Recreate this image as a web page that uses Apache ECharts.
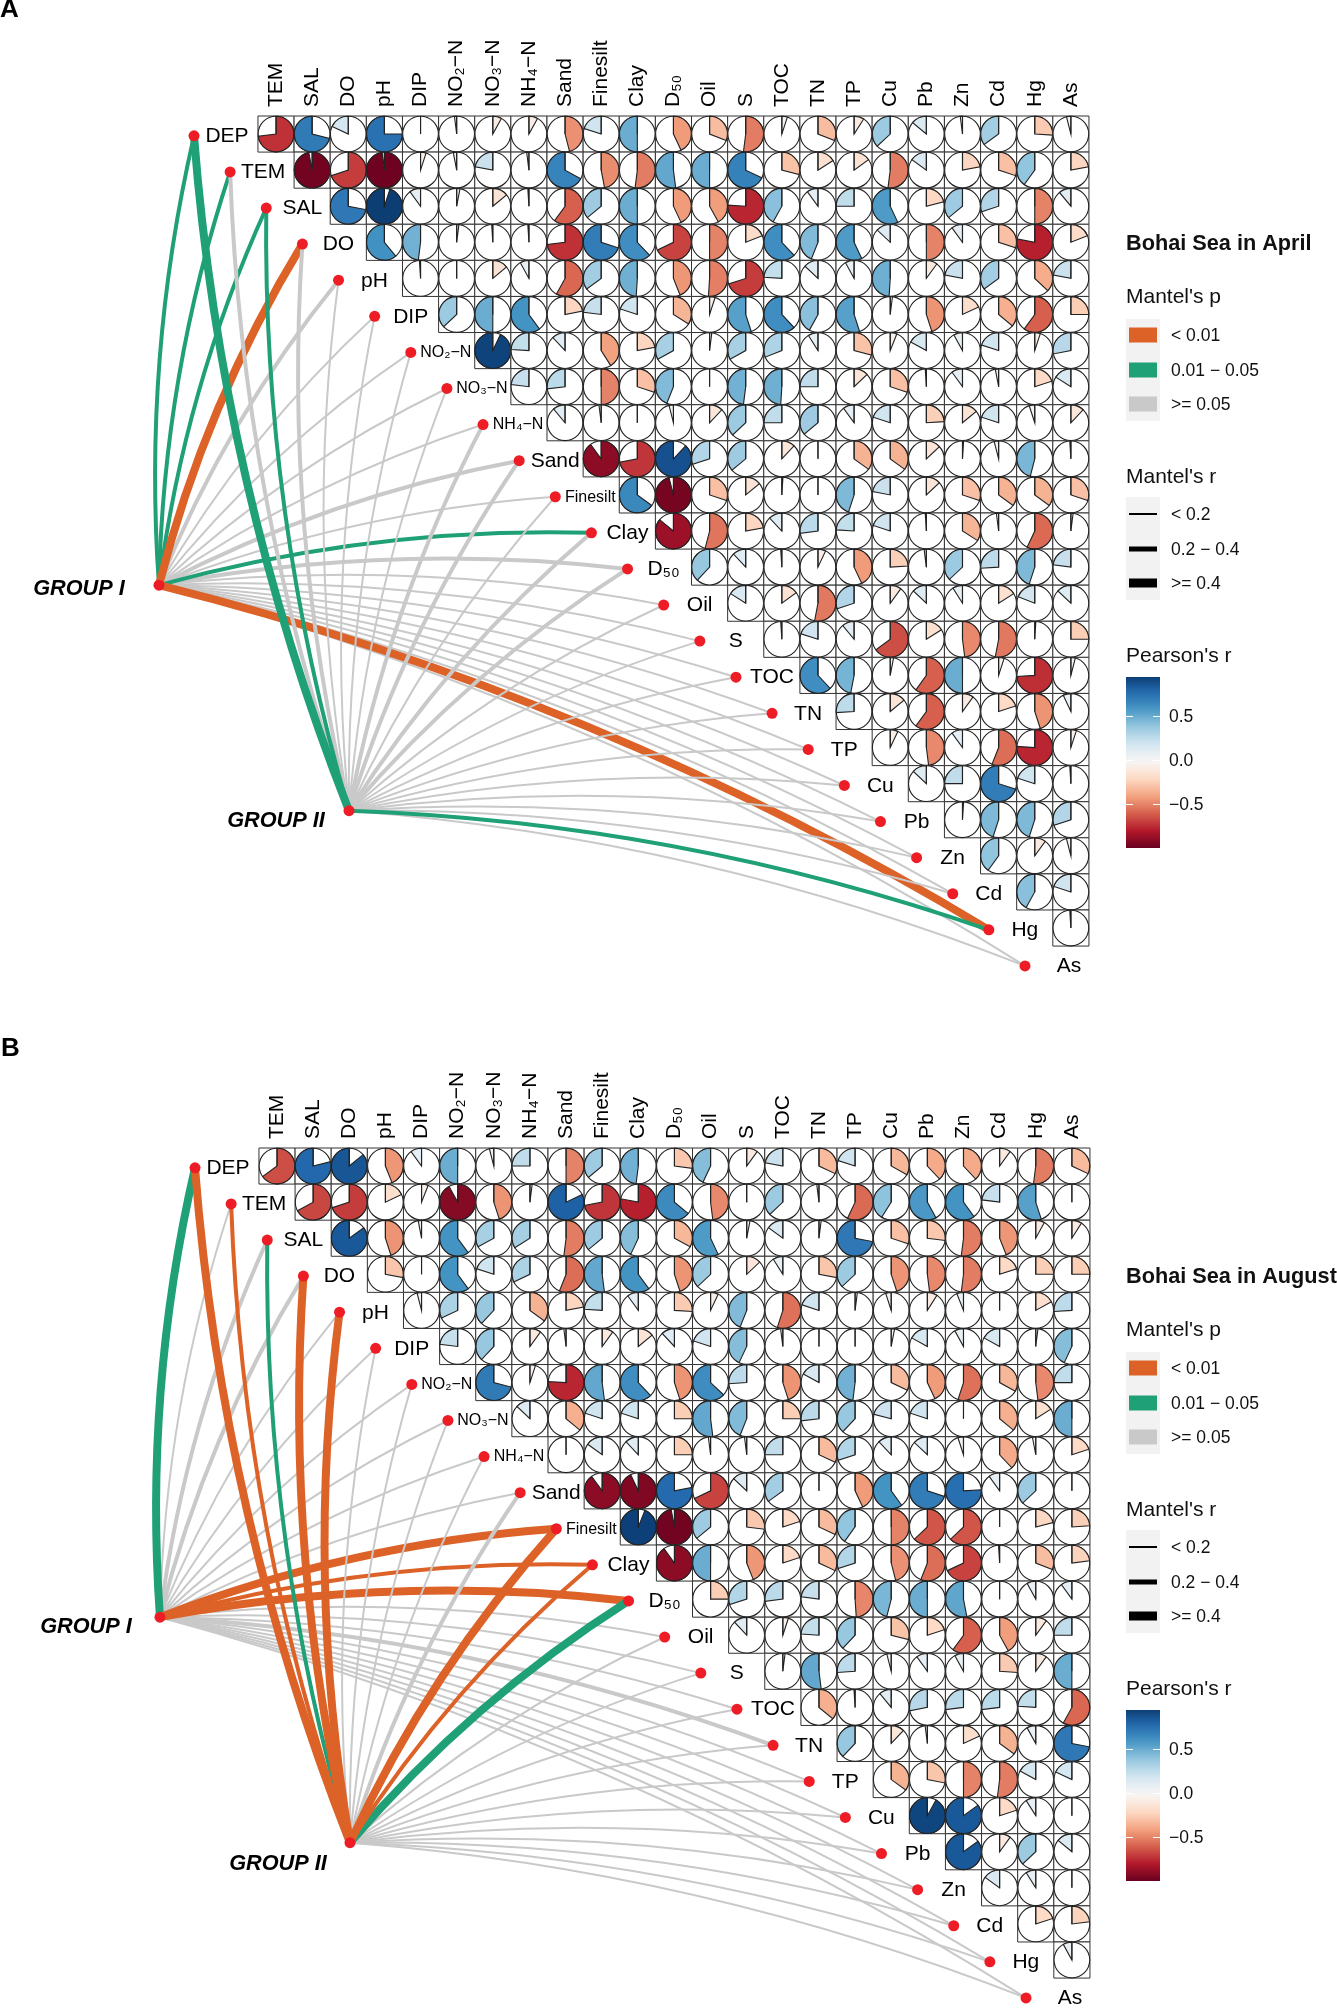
<!DOCTYPE html>
<html><head><meta charset="utf-8">
<style>html,body{margin:0;padding:0;background:#fff}#c{width:1337px;height:2009px}</style>
<script src="https://cdn.jsdelivr.net/npm/echarts@6/dist/echarts.min.js"></script>
</head><body><div id="c"></div>
<script>
const colLabels=['TEM','SAL','DO','pH','DIP','NO₂−N','NO₃−N','NH₄−N','Sand','Finesilt','Clay','D₅₀','Oil','S','TOC','TN','TP','Cu','Pb','Zn','Cd','Hg','As'];
const rowLabels=['DEP','TEM','SAL','DO','pH','DIP','NO₂−N','NO₃−N','NH₄−N','Sand','Finesilt','Clay','D₅₀','Oil','S','TOC','TN','TP','Cu','Pb','Zn','Cd','Hg','As'];

// Pearson's r, upper triangle: row i starts at column i
const pearsonApril=[
[-0.73,0.71,0.18,0.75,0.0,0.02,-0.08,-0.08,-0.46,0.2,0.5,-0.43,-0.31,-0.52,-0.05,-0.31,-0.09,0.37,0.14,0.02,0.35,-0.26,0.04],
[-0.97,-0.7,-0.98,-0.05,0.03,0.22,0.02,0.67,-0.47,-0.52,0.52,0.5,0.68,-0.29,-0.16,-0.15,-0.52,0.15,-0.22,-0.3,0.4,-0.22],
[0.72,0.95,0.1,-0.03,-0.14,0.01,-0.6,0.36,0.5,-0.43,-0.42,-0.76,0.42,0.1,0.25,0.57,-0.21,0.36,0.3,-0.5,0.11],
[0.61,0.48,-0.02,0.01,0.01,-0.73,0.7,0.62,-0.68,-0.5,-0.19,0.62,0.44,0.57,0.13,-0.5,0.1,-0.3,-0.78,-0.19],
[0.01,0.0,-0.14,0.08,-0.58,0.35,0.49,-0.44,-0.51,-0.7,0.24,0.13,0.08,0.49,-0.1,0.22,0.35,-0.37,0.22],
[0.37,0.5,0.6,-0.22,0.23,0.2,-0.34,-0.05,0.55,0.62,0.42,0.55,-0.02,-0.45,-0.18,-0.36,-0.6,-0.25],
[0.93,0.24,0.12,-0.41,-0.22,0.33,-0.02,0.33,0.31,0.09,-0.29,-0.06,0.17,0.08,0.2,-0.05,0.28],
[0.23,0.27,-0.5,-0.3,0.44,0.0,0.48,0.49,0.25,-0.13,-0.3,0.01,0.1,0.03,-0.2,0.16],
[0.11,0.02,0.0,0.04,-0.12,0.37,0.25,0.36,0.1,0.2,-0.24,-0.14,0.2,0.05,-0.12],
[-0.9,-0.72,0.88,0.3,0.36,-0.12,0.0,-0.35,-0.35,-0.13,-0.01,0.04,0.46,0.01],
[0.65,-0.96,-0.3,-0.14,-0.01,0.0,0.45,0.22,-0.13,-0.3,-0.35,-0.35,-0.3],
[-0.86,-0.54,-0.22,0.12,0.27,0.24,0.2,0.01,-0.34,0.02,-0.57,-0.02],
[0.38,0.12,0.01,-0.07,-0.43,-0.24,0.02,0.37,0.26,0.45,0.23],
[0.16,-0.15,-0.53,0.3,-0.1,0.13,0.09,-0.16,0.19,0.13],
[0.01,0.2,0.11,-0.65,-0.16,-0.48,-0.53,-0.01,-0.25],
[0.62,0.47,-0.03,-0.6,0.5,-0.05,-0.74,-0.04],
[0.26,-0.14,-0.6,-0.1,-0.2,-0.45,0.07],
[-0.07,-0.48,0.1,-0.56,-0.76,-0.05],
[0.13,0.25,0.7,0.2,0.01],
[-0.01,0.45,0.45,0.3],
[0.4,-0.1,0.04],
[0.42,0.2],
[0.01]];

const pearsonAugust=[
[-0.65,0.79,0.86,-0.44,0.1,0.5,0.04,0.25,-0.5,0.36,0.48,-0.27,0.43,-0.1,0.22,-0.32,0.2,-0.33,-0.38,-0.38,-0.1,-0.52,-0.32],
[-0.67,-0.7,-0.18,-0.06,-0.92,-0.45,-0.02,0.82,-0.72,-0.78,0.64,-0.48,0.0,0.37,0.02,-0.57,0.41,0.58,0.6,0.23,0.55,0.0],
[0.85,-0.45,0.03,0.6,0.33,0.34,-0.52,0.36,0.43,-0.33,0.57,-0.03,0.15,-0.02,0.72,-0.3,-0.27,-0.52,-0.44,-0.08,-0.09],
[-0.28,0.0,0.6,0.2,0.32,-0.56,0.52,0.6,-0.45,0.37,-0.13,0.09,-0.28,0.37,-0.45,-0.48,-0.52,-0.2,-0.25,-0.25],
[0.04,0.32,0.38,-0.35,-0.22,0.24,0.1,-0.26,-0.07,0.44,-0.55,0.2,-0.02,0.05,-0.09,0.06,0.0,-0.17,0.26],
[0.23,0.38,-0.1,0.02,-0.1,-0.14,0.12,0.2,0.43,0.02,0.0,0.0,-0.03,0.17,0.08,0.17,-0.02,0.43],
[0.71,-0.05,-0.76,0.52,0.62,-0.45,0.63,0.26,-0.45,0.17,0.48,-0.32,-0.43,-0.55,-0.33,-0.48,0.25],
[0.13,-0.36,0.2,0.2,-0.25,0.52,0.44,-0.25,0.27,0.38,0.21,0.2,0.0,-0.36,-0.16,0.5],
[0.0,0.15,0.12,-0.25,0.02,0.02,0.25,-0.32,0.3,0.12,0.13,0.05,-0.38,0.03,-0.2],
[-0.9,-0.93,0.78,-0.68,0.13,0.35,0.0,-0.43,0.6,0.7,0.76,0.1,0.37,0.0],
[0.94,-0.97,0.36,-0.27,-0.2,-0.32,0.4,-0.5,-0.63,-0.63,0.0,-0.21,-0.24],
[-0.9,0.5,-0.44,-0.2,-0.32,0.3,-0.46,-0.56,-0.68,0.01,-0.31,-0.23],
[-0.25,0.3,0.27,0.23,-0.49,0.46,0.5,0.53,0.0,0.08,0.1],
[0.12,-0.05,0.24,0.38,-0.29,-0.2,-0.6,-0.42,-0.1,0.25],
[-0.02,0.52,0.26,0.04,0.1,0.08,-0.26,-0.1,0.5],
[-0.36,0.01,0.11,0.28,0.27,0.27,0.24,-0.58],
[0.38,-0.12,0.02,-0.18,-0.35,0.08,0.72],
[-0.35,-0.28,-0.5,-0.52,0.17,0.18],
[0.92,0.85,-0.2,0.09,0.0],
[0.85,-0.1,0.37,0.14],
[0.15,0.09,0.0],
[-0.2,-0.23],
[0.08]];

// Mantel links, one entry per node in rowLabels. p class: 0 <0.01, 1 0.01-0.05, 2 >=0.05. r class: 0 <0.2, 1 0.2-0.4, 2 >=0.4
const aprilGroup1P=[1,1,1,0,2,2,2,2,2,2,2,1,2,2,2,2,2,2,2,2,2,2,0,2];
const aprilGroup1R=[1,1,1,2,1,0,0,0,0,1,0,1,1,0,0,0,0,0,0,0,0,0,2,0];
const aprilGroup2P=[1,2,1,2,2,2,2,2,2,2,2,2,2,2,2,2,2,2,2,2,2,2,1,2];
const aprilGroup2R=[2,1,1,1,0,0,0,0,1,1,0,1,1,0,0,0,0,0,0,0,0,0,1,0];
const augustGroup1P=[1,2,2,2,2,2,2,2,2,2,0,0,0,2,2,2,2,2,2,2,2,2,2,2];
const augustGroup1R=[2,0,1,1,0,0,0,0,0,0,2,1,2,0,0,0,1,0,0,0,0,0,0,0];
const augustGroup2P=[0,0,1,0,0,2,2,2,2,2,0,0,1,2,2,2,2,2,2,2,2,2,2,2];
const augustGroup2R=[2,1,1,2,2,0,0,0,0,1,2,1,2,0,0,0,0,0,0,0,0,0,0,0];

const pLabels=['< 0.01','0.01 − 0.05','>= 0.05'];
const rLabels=['< 0.2','0.2 − 0.4','>= 0.4'];
const barTicks=[0.5,0,-0.5];

const FONT='"Liberation Sans",Arial,sans-serif';
const pColors=['#DC6228','#1FA077','#C9C9C9'];
const rWidths=[2,4,8];
const keyWidths=[2,5,9];
const RDBU=['#67001F','#B2182B','#D6604D','#F4A582','#FDDBC7','#F7F7F7','#D1E5F0','#92C5DE','#4393C3','#2166AC','#053061'];
function hex(c){return [1,3,5].map(i=>parseInt(c.substr(i,2),16));}
function rdbu(v){
  const t=Math.max(0,Math.min(0.99999,(v+1)/2))*10,i=Math.floor(t),f=t-i,a=hex(RDBU[i]),b=hex(RDBU[i+1]);
  return 'rgb('+a.map((x,k)=>Math.round(x+(b[k]-x)*f)).join(',')+')';
}
const GROUP_POS=[[-3.24,12.5],[2.02,18.75]];
const NODE_SHIFT=-2.27;
const NODE_DY=0.05;

function cellData(m){const out=[];m.forEach((row,i)=>row.forEach((v,j)=>out.push([i+j,i,v])));return out;}
function renderPie(params,api){
  const c=api.coord([api.value(0),api.value(1)]),s=api.size([1,1]),v=api.value(2);
  const R=Math.min(s[0],s[1])/2-0.2,top=-Math.PI/2,span=Math.abs(v)*Math.PI*2;
  const line={stroke:'#222',lineWidth:1.1};
  return {type:'group',children:[
    {type:'rect',shape:{x:c[0]-s[0]/2,y:c[1]-s[1]/2,width:s[0],height:s[1]},style:{fill:'#fff',stroke:'#333',lineWidth:1}},
    {type:'circle',shape:{cx:c[0],cy:c[1],r:R},style:{fill:'#fff',stroke:'#222',lineWidth:1.1}},
    {type:'sector',shape:{cx:c[0],cy:c[1],r:R,r0:0,startAngle:top,endAngle:v<0?top+span:top-span,clockwise:v<0},
      style:{fill:rdbu(v),stroke:'#222',lineWidth:1.1}},
    {type:'line',shape:{x1:c[0],y1:c[1],x2:c[0],y2:c[1]-R},style:line}
  ]};
}
function linkData(P,R,g){
  return P.map((p,i)=>({p,i})).sort((a,b)=>b.p-a.p).map(o=>({
    coords:[GROUP_POS[g],[o.i+NODE_SHIFT,o.i+NODE_DY]],
    lineStyle:{color:pColors[o.p],width:rWidths[R[o.i]],curveness:0.075,opacity:1}
  }));
}
function labelOffset(t){
  if(t==='As')return 44;
  if(t==='DEP'||t==='TEM')return 33;
  if(t==='Finesilt'||t.indexOf('−')>=0)return 35;
  return 36;
}
function nodeData(){
  return rowLabels.map((t,i)=>{
    const small=t==='Finesilt'||t.indexOf('−')>=0;
    return {value:[i+NODE_SHIFT,i+NODE_DY],label:{show:true,formatter:t,position:[5.5+labelOffset(t),6],
      align:'center',verticalAlign:'middle',fontFamily:FONT,fontSize:small?16:21,color:'#000'}};
  });
}
function groupData(){
  return GROUP_POS.map(p=>({value:p}));
}
function panel(idx,pearson,g1P,g1R,g2P,g2R){
  return [
   {type:'custom',xAxisIndex:idx,yAxisIndex:idx,renderItem:renderPie,data:cellData(pearson),encode:{x:0,y:1},clip:false,z:2,silent:true,animation:false},
   {type:'lines',coordinateSystem:'cartesian2d',xAxisIndex:idx,yAxisIndex:idx,data:linkData(g1P,g1R,0),z:3,polyline:false,silent:true,animation:false,lineStyle:{curveness:0.075}},
   {type:'lines',coordinateSystem:'cartesian2d',xAxisIndex:idx,yAxisIndex:idx,data:linkData(g2P,g2R,1),z:3,polyline:false,silent:true,animation:false,lineStyle:{curveness:0.075}},
   {type:'scatter',xAxisIndex:idx,yAxisIndex:idx,data:nodeData(),symbolSize:11,itemStyle:{color:'#EE1C25',opacity:1},z:6,silent:true,animation:false,clip:false},
   {type:'scatter',xAxisIndex:idx,yAxisIndex:idx,data:groupData(),symbolSize:11,itemStyle:{color:'#EE1C25',opacity:1},z:6,silent:true,animation:false,clip:false}
  ];
}
function txt(x,y,t,o){return {type:'text',x,y,z:10,silent:true,style:Object.assign({text:t,fontFamily:FONT,fontSize:17.5,fill:'#111',verticalAlign:'middle',align:'left'},o||{})};}
function rect(x,y,w,h,f){return {type:'rect',x,y,z:9,silent:true,shape:{x:0,y:0,width:w,height:h},style:{fill:f}};}
function legend(dx,dy,title){
  const L=1126+dx,e=[];
  e.push(txt(L,244+dy,title,{fontWeight:'bold',fontSize:21.7}));
  e.push(txt(L,297+dy,"Mantel's p",{fontSize:21}));
  e.push(rect(L,319+dy,34,102,'#F2F2F2'));
  [335,370,404].forEach((y,i)=>{e.push(rect(L+3,y-7.5+dy,28,15,pColors[i]));e.push(txt(L+45,y+1+dy,pLabels[i]));});
  e.push(txt(L,477+dy,"Mantel's r",{fontSize:21}));
  e.push(rect(L,497+dy,34,103,'#F2F2F2'));
  [514,549,583].forEach((y,i)=>{e.push(rect(L+3,y-keyWidths[i]/2+dy,28,keyWidths[i],'#000'));e.push(txt(L+45,y+1+dy,rLabels[i]));});
  e.push(txt(L,656+dy,"Pearson's r",{fontSize:21}));
  const top=0.95,bot=-0.994,stops=[];
  for(let i=0;i<=20;i++){const v=top+(bot-top)*i/20;stops.push({offset:i/20,color:rdbu(v)});}
  e.push({type:'rect',x:L,y:677+dy,z:9,silent:true,shape:{x:0,y:0,width:34,height:171},style:{fill:new echarts.graphic.LinearGradient(0,0,0,1,stops)}});
  barTicks.forEach(v=>{
    const y=760.5-v*88+dy;
    e.push(rect(L,y-0.5,7,1,'#fff'));e.push(rect(L+27,y-0.5,7,1,'#fff'));
    e.push(txt(L+43,y+1,v===0?'0.0':(v<0?'−'+Math.abs(v).toFixed(1):v.toFixed(1))));
  });
  return e;
}
function bold(x,y,t){return txt(x,y,t,{fontWeight:'bold',fontStyle:'italic',fontSize:21.7,align:'center',fill:'#000'});}

const GRID_LEFT=[131.5,132.5],GRID_TOP=[116,1148];
const grids=GRID_LEFT.map((l,i)=>({left:l,top:GRID_TOP[i],width:27*36.13,height:23.7*36.09}));
const xAxes=[0,1].map(i=>({gridIndex:i,type:'value',position:'top',min:-4,max:23,interval:1,
  axisLine:{show:false},axisTick:{show:false},splitLine:{show:false},
  axisLabel:{rotate:90,margin:9,fontFamily:FONT,fontSize:21,color:'#000',hideOverlap:false,formatter:v=>colLabels[v]||''}}));
const yAxes=[0,1].map(i=>({gridIndex:i,type:'value',inverse:true,min:-0.5,max:23.2,show:false}));

const chart=echarts.init(document.getElementById('c'),null,{renderer:'canvas',width:1337,height:2009});
chart.setOption({
  animation:false,backgroundColor:'#fff',
  grid:grids,xAxis:xAxes,yAxis:yAxes,tooltip:{show:false},
  series:[].concat(
    panel(0,pearsonApril,aprilGroup1P,aprilGroup1R,aprilGroup2P,aprilGroup2R),
    panel(1,pearsonAugust,augustGroup1P,augustGroup1R,augustGroup2P,augustGroup2R)),
  graphic:{elements:[].concat(
    legend(0,0,'Bohai Sea in April'),
    legend(0,1033,'Bohai Sea in August'),
    [txt(0,10,'A',{fontWeight:'bold',fontSize:26,fill:'#000'}),
     txt(1,1049,'B',{fontWeight:'bold',fontSize:26,fill:'#000'}),
     bold(79,589,'GROUP I'),bold(276,821,'GROUP II'),
     bold(86,1627,'GROUP I'),bold(278,1864,'GROUP II')])}
});
</script></body></html>
